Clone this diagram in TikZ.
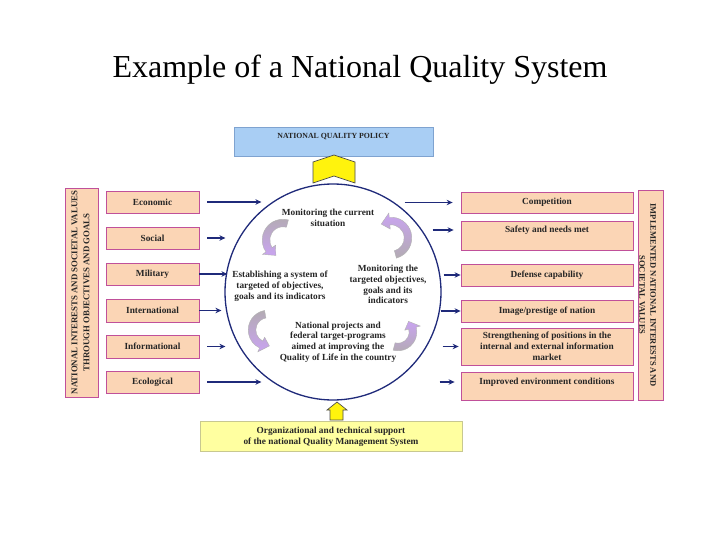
\documentclass[tikz,border=0pt]{standalone}
\usepackage{fontspec}
\setmainfont{Liberation Serif}
\usetikzlibrary{arrows.meta}
\definecolor{peach}{HTML}{FBD5B5}
\definecolor{pinkb}{HTML}{C0509A}
\definecolor{navy}{HTML}{1F2A7A}
\definecolor{bluefill}{HTML}{A9CEF4}
\definecolor{blueedge}{HTML}{7FA3D0}
\definecolor{yfill}{HTML}{FFFFA0}
\definecolor{yedge}{HTML}{C8C890}
\definecolor{lav}{HTML}{C9A4F0}
\definecolor{grayarr}{HTML}{B3ABB3}
\newcommand\cycarrow[7]{%
  \begin{scope}[shift={(#1,#2)}]
    \pgfmathsetmacro\cahd{#5-30}
    \pgfmathsetmacro\carout{#3+3.8}
    \pgfmathsetmacro\carin{#3-3.8}
    \pgfmathsetmacro\carho{#3+8}
    \pgfmathsetmacro\carhi{#3-8}
    \shadedraw[top color=#6,bottom color=#7,draw=gray!60,line width=0.4pt]
      (#4:\carout pt) arc[start angle=#4,end angle=\cahd,radius=\carout pt]
      -- (\cahd:\carho pt) -- (#5:#3 pt) -- (\cahd:\carhi pt) -- (\cahd:\carin pt)
      arc[start angle=\cahd,end angle=#4,radius=\carin pt] -- cycle;
  \end{scope}}
\tikzset{
  lbl/.style={font=\fontsize{9.3}{10.8}\selectfont\bfseries, align=center, inner sep=0pt, text=black!85},
  lbox/.style={draw=pinkb, fill=peach, line width=0.8pt, minimum width=93pt, minimum height=22pt, inner sep=1pt, lbl},
  rbox/.style={draw=pinkb, fill=peach, line width=0.8pt, minimum width=172pt, minimum height=22pt, inner sep=1pt, lbl},
  vbox/.style={draw=pinkb, fill=peach, line width=0.8pt},
  arr/.style={draw=navy, line width=1.8pt, -{Stealth[length=6pt,width=5.5pt]}},
  yshape/.style={fill=yellow!95!white, draw=black!70, line width=0.7pt},
}
\begin{document}
\begin{tikzpicture}[x=1pt,y=1pt]
\useasboundingbox (0,0) rectangle (720,-540);
\fill[white] (0,0) rectangle (720,-540);
% title
\node[font=\fontsize{32}{38}\selectfont, anchor=base, inner sep=0pt] (title) at (360,-78) {Example of a National Quality System};
% policy box
\node[draw=blueedge, fill=bluefill, line width=0.8pt, minimum width=199pt, minimum height=29pt, inner sep=0pt] (policy) at (333.5,-141.5) {};
\node[lbl, font=\fontsize{7.8}{9}\selectfont\bfseries] (policyt) at (333.5,-137) {NATIONAL QUALITY POLICY};
% top chevron
\draw[yshape] (313,-162) -- (334,-155) -- (355,-162) -- (355,-183) -- (334,-176) -- (313,-183) -- cycle;
% circle
\node[circle, draw=navy, line width=1.3pt, minimum size=216pt, inner sep=0pt] (circ) at (333,-292) {};
% left vertical box
\node[vbox, minimum width=33pt, minimum height=209pt] (lv) at (81.5,-292.5) {};
\node[lbl, rotate=90, font=\fontsize{8.8}{12}\selectfont\bfseries] (lvt) at (80.5,-292.5) {NATIONAL INTERESTS AND SOCIETAL VALUES\\THROUGH OBJECTIVES AND GOALS};
% right vertical box
\node[vbox, minimum width=25pt, minimum height=210pt] (rv) at (650.5,-295) {};
\node[lbl, rotate=-90, font=\fontsize{8.5}{11}\selectfont\bfseries] (rvt) at (647.5,-295) {IMPLEMENTED NATIONAL INTERESTS AND\\SOCIETAL VALUES};
% left boxes
\node[lbox] (eco) at (152.5,-202) {Economic};
\node[lbox] (soc) at (152.5,-238) {Social};
\node[lbox] (mil) at (152.5,-274) {Military};
\node[lbox, minimum height=23pt] (int) at (152.5,-310.5) {International};
\node[lbox, minimum height=23pt] (inf) at (152.5,-346.5) {Informational};
\node[lbox] (ecol) at (152.5,-382) {Ecological};
% right boxes
\node[rbox, minimum height=21pt] (comp) at (547,-202.5) {Competition};
\node[rbox, minimum height=29pt] (safe) at (547,-235.5) {};
\node[lbl] (safet) at (547,-230) {Safety and needs met};
\node[rbox] (def) at (547,-275) {Defense capability};
\node[rbox] (img) at (547,-311) {Image/prestige of nation};
\node[rbox, minimum height=37pt] (str) at (547,-346.5) {Strengthening of positions in the\\internal and external information\\market};
\node[rbox, minimum height=28pt] (imp) at (547,-386) {};
\node[lbl] (impt) at (547,-382) {Improved environment conditions};
% left arrows
\draw[arr] ([xshift=8pt]eco.east) -- ([xshift=62pt]eco.east);
\draw[arr] ([xshift=8pt]soc.east) -- ([xshift=26pt]soc.east);
\draw[arr] ([xshift=0pt]mil.east) -- ([xshift=28pt]mil.east);
\draw[arr] ([xshift=0pt]int.east) -- ([xshift=22pt]int.east);
\draw[arr] ([xshift=8pt]inf.east) -- ([xshift=26pt]inf.east);
\draw[arr] ([xshift=8pt]ecol.east) -- ([xshift=62pt]ecol.east);
% right arrows
\draw[arr] ([xshift=-56pt]comp.west) -- ([xshift=-8pt]comp.west);
\draw[arr] ([xshift=-28pt]safe.west |- safet) -- ([xshift=-7pt]safe.west |- safet);
\draw[arr] ([xshift=-17pt]def.west) -- (def.west);
\draw[arr] ([xshift=-20pt]img.west) -- (img.west);
\draw[arr] ([xshift=-18pt]str.west) -- ([xshift=-2pt]str.west);
\draw[arr] ([xshift=-21pt]imp.west |- impt) -- ([xshift=-6pt]imp.west |- impt);
% inner texts
\node[lbl] (mon) at (328,-218) {Monitoring the current\\situation};
\node[lbl] (est) at (280,-286) {Establishing a system of\\targeted of objectives,\\goals and its indicators};
\node[lbl] (mont) at (388,-284.5) {Monitoring the\\targeted objectives,\\goals and its\\indicators};
\node[lbl] (nat) at (338,-342) {National projects and\\federal target-programs\\aimed at improving the\\Quality of Life in the country};
% cycle arrows
\cycarrow{283}{-240}{17}{75}{245}{grayarr}{lav}
\cycarrow{391}{-238}{17}{-75}{125}{lav}{grayarr}
\cycarrow{268}{-330}{16}{100}{275}{grayarr}{lav}
\cycarrow{398}{-332}{15}{-105}{45}{lav}{grayarr}
% bottom arrow and box
\draw[yshape] (330,-420) -- (330,-410) -- (327,-410) -- (337,-402) -- (347,-410) -- (343,-410) -- (343,-420) -- cycle;
\node[draw=yedge, fill=yfill, line width=0.8pt, minimum width=262pt, minimum height=30pt, inner sep=0pt] (org) at (331,-436) {};
\node[lbl] (orgt) at (331,-436.5) {Organizational and technical support\\of the national Quality Management System};
\end{tikzpicture}
\end{document}
